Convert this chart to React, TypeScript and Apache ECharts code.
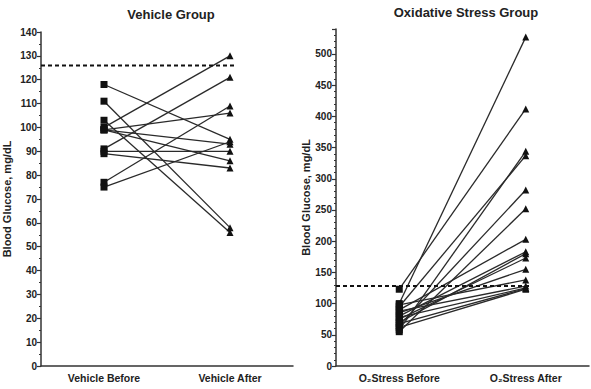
import React, { useEffect, useRef } from "react";
import * as echarts from "echarts";

const vehicleCategories = ["Vehicle Before", "Vehicle After"];
const stressCategories = ["O₂Stress Before", "O₂Stress After"];

const vehicleBefore = [118, 111, 103, 100, 99, 99, 99, 91, 90, 89, 77, 75];
const vehicleAfter = [95, 58, 56, 130, 106, 93, 86, 121, 90, 83, 109, 94];

const stressBefore = [100, 123, 58, 95, 65, 55, 90, 80, 70, 75, 85, 98, 88, 78, 62, 68];
const stressAfter = [527, 412, 344, 337, 282, 252, 203, 183, 180, 173, 155, 138, 128, 125, 123, 124];

const vehicleThreshold = 126;
const stressThreshold = 128;
const thresholdSpan = [0, 0.77];

const FONT = "'Liberation Sans', Arial, sans-serif";

function pairSeries(before: number[], after: number[], axis: number) {
  return before.map((b, i) => ({
    type: "line",
    xAxisIndex: axis,
    yAxisIndex: axis,
    data: [
      { value: b, symbol: "rect", symbolSize: 7 },
      { value: after[i], symbol: "triangle", symbolSize: 7 },
    ],
    lineStyle: { color: "#2a2a2a", width: 1.3 },
    itemStyle: { color: "#111" },
    showSymbol: true,
    silent: true,
    z: 3,
  }));
}

function thresholdSeries(value: number, xAxis: number, yAxis: number) {
  return {
    type: "line",
    xAxisIndex: xAxis,
    yAxisIndex: yAxis,
    data: thresholdSpan.map((x) => [x, value]),
    symbol: "none",
    lineStyle: { color: "#111", width: 2, type: [4, 3] },
    silent: true,
    z: 4,
  };
}

const catAxis = (gridIndex: number, data: string[]) => ({
  type: "category",
  gridIndex,
  data,
  boundaryGap: true,
  axisLine: { lineStyle: { color: "#333", width: 1.5 } },
  axisTick: { alignWithLabel: true, length: 4, lineStyle: { color: "#333", width: 1.5 } },
  axisLabel: { color: "#222", fontFamily: FONT, fontWeight: "bold", fontSize: 10.5, margin: 6 },
});

const valAxis = (gridIndex: number, max: number, interval: number, minorSplit: number, nameGap: number) => ({
  type: "value",
  gridIndex,
  min: 0,
  max,
  interval,
  name: "Blood Glucose, mg/dL",
  nameLocation: "middle",
  nameGap,
  nameTextStyle: { color: "#222", fontFamily: FONT, fontWeight: "bold", fontSize: 11 },
  axisLine: { show: true, lineStyle: { color: "#333", width: 1.5 } },
  axisTick: { show: true, length: 4, lineStyle: { color: "#333", width: 1.2 } },
  minorTick: { show: true, splitNumber: minorSplit, length: 2, lineStyle: { color: "#333", width: 1 } },
  splitLine: { show: false },
  axisLabel: { color: "#222", fontFamily: FONT, fontWeight: "bold", fontSize: 10, margin: 4, showMaxLabel: max % interval === 0 },
});

export default function App() {
  const ref = useRef<HTMLDivElement>(null);
  useEffect(() => {
    if (!ref.current) return;
    const chart = echarts.init(ref.current, null, { renderer: "svg" });
    chart.setOption({
      animation: false,
      backgroundColor: "#fff",
      title: [
        {
          text: "Vehicle Group",
          left: 166,
          top: 3,
          textAlign: "center",
          textStyle: { fontFamily: FONT, fontWeight: "bold", fontSize: 13, color: "#222" },
        },
        {
          text: "Oxidative Stress Group",
          left: 461,
          top: 1,
          textAlign: "center",
          textStyle: { fontFamily: FONT, fontWeight: "bold", fontSize: 13, color: "#222" },
        },
      ],
      grid: [
        { left: 39, top: 32, width: 254, height: 334 },
        { left: 336, top: 29, width: 253, height: 337 },
      ],
      xAxis: [
        catAxis(0, vehicleCategories),
        catAxis(1, stressCategories),
        { type: "value", gridIndex: 0, min: 0, max: 1, show: false },
        { type: "value", gridIndex: 1, min: 0, max: 1, show: false },
      ],
      yAxis: [valAxis(0, 140, 10, 2, 29), valAxis(1, 540, 50, 5, 24)],
      series: [
        ...pairSeries(vehicleBefore, vehicleAfter, 0),
        ...pairSeries(stressBefore, stressAfter, 1),
        thresholdSeries(vehicleThreshold, 2, 0),
        thresholdSeries(stressThreshold, 3, 1),
      ],
    });
    return () => chart.dispose();
  }, []);
  return <div ref={ref} style={{ width: 591, height: 389, position: "absolute", left: 0, top: 0 }} />;
}
